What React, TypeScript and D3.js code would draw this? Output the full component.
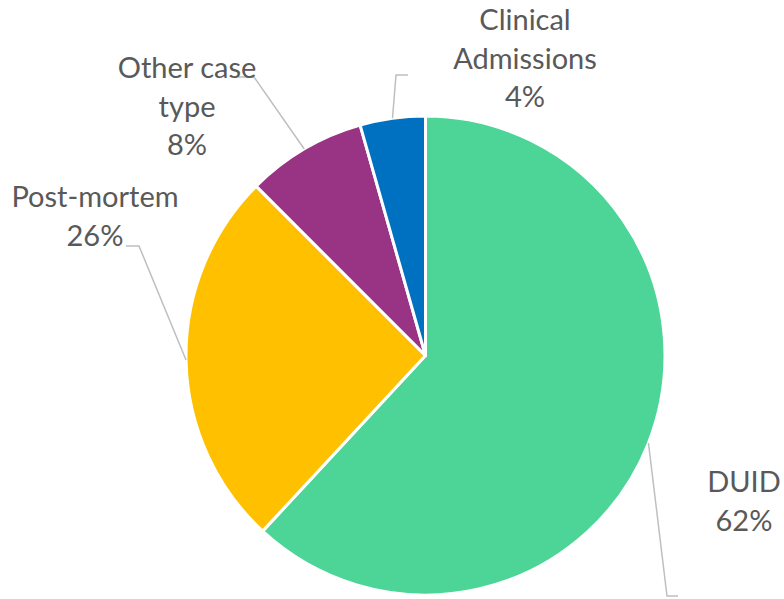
import React from "react";
import * as d3 from "d3";

const categories = ["DUID", "Post-mortem", "Other case type", "Clinical Admissions"];
const values = [61.9, 25.6, 8.1, 4.4];
const colors = ["#4CD597", "#FFC000", "#993384", "#0070C0"];
const labelLines = [["DUID"], ["Post-mortem"], ["Other case", "type"], ["Clinical", "Admissions"]];

// layout for labels: elbow point, horizontal end, label center x, first baseline
const labelLayout = [
  { elbow: [667, 596], end: [678, 596], cx: 744, y0: 492 },
  { elbow: [139, 246], end: [126, 246], cx: 95, y0: 207 },
  { elbow: [254, 77], end: [238, 77], cx: 187, y0: 78 },
  { elbow: [396, 75], end: [408, 75], cx: 525, y0: 30 },
];

const W = 784, H = 599;
const cx = 425.5, cy = 355.5, R = 239.5;

export default function App() {
  const pie = d3.pie<number>().sort(null).value((d) => d);
  const arcs = pie(values);
  const arc = d3.arc<d3.PieArcDatum<number>>().innerRadius(0).outerRadius(R);
  const total = d3.sum(values);
  const lh = 38.5;
  return (
    <svg width={W} height={H} style={{ position: "absolute", left: 0, top: 0 }}>
      <rect width={W} height={H} fill="#fff" />
      <g transform={`translate(${cx},${cy})`}>
        {arcs.map((a, i) => (
          <path key={i} d={arc(a) || ""} fill={colors[i]} stroke="#fff" strokeWidth={3} strokeLinejoin="round" />
        ))}
      </g>
      {arcs.map((a, i) => {
        const mid = (a.startAngle + a.endAngle) / 2;
        const sx = cx + R * Math.sin(mid);
        const sy = cy - R * Math.cos(mid);
        const L = labelLayout[i];
        return (
          <polyline
            key={"l" + i}
            points={`${sx},${sy} ${L.elbow[0]},${L.elbow[1]} ${L.end[0]},${L.end[1]}`}
            fill="none"
            stroke="#BFBFBF"
            strokeWidth={1.5}
          />
        );
      })}
      {categories.map((c, i) => {
        const L = labelLayout[i];
        const lines = [...labelLines[i], `${Math.round((values[i] / total) * 100)}%`];
        return (
          <text
            key={"t" + i}
            textAnchor="middle"
            fill="#595959"
            fontFamily="Lato, 'Open Sans', sans-serif"
            fontSize={29}
          >
            {lines.map((s, j) => (
              <tspan key={j} x={L.cx} y={L.y0 + j * lh}>
                {s}
              </tspan>
            ))}
          </text>
        );
      })}
    </svg>
  );
}
